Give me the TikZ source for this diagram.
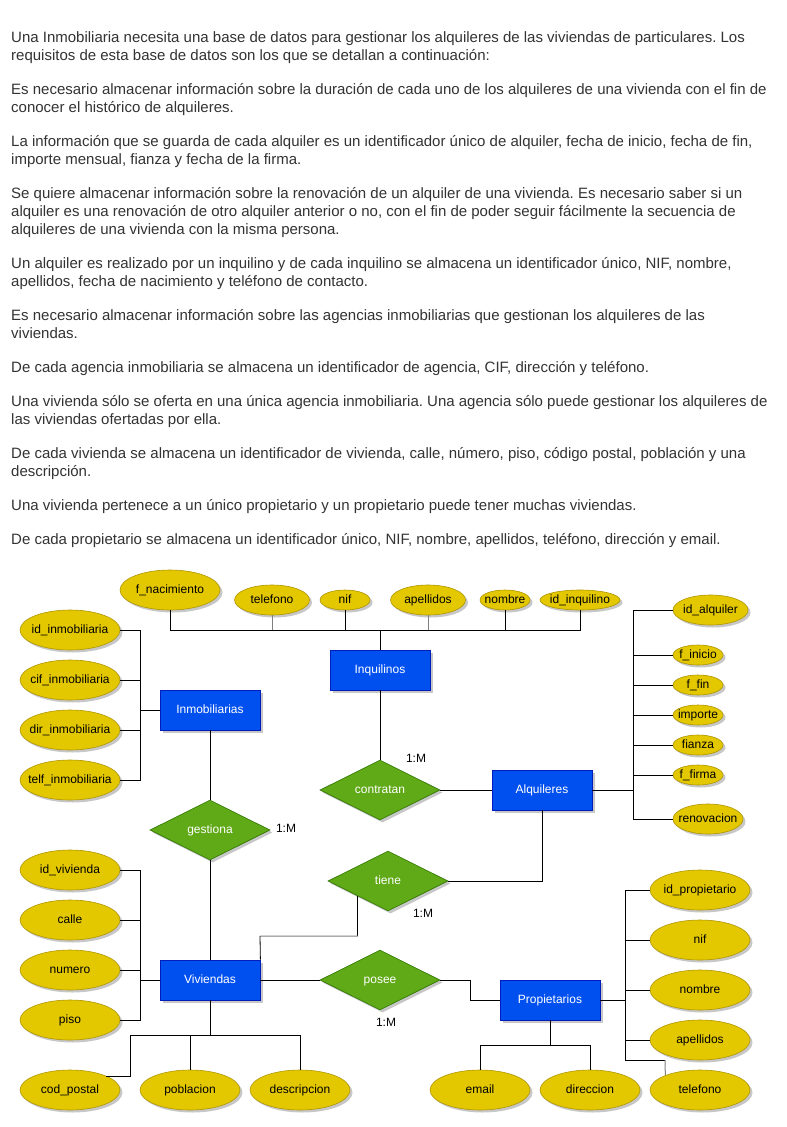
\documentclass[tikz,border=0pt]{standalone}
\usepackage{fontspec}
\setmainfont{Liberation Sans}
\usetikzlibrary{shapes.geometric,shadows,calc}
\definecolor{attrfill}{HTML}{E3C800}
\definecolor{attrline}{HTML}{B09500}
\definecolor{entfill}{HTML}{0050EF}
\definecolor{entline}{HTML}{001DBC}
\definecolor{relfill}{HTML}{60A917}
\definecolor{relline}{HTML}{2D7600}
\definecolor{txt}{HTML}{333333}
\frenchspacing
\begin{document}
\begin{tikzpicture}[x=1pt,y=-1pt,
  shd/.style={drop shadow={shadow xshift=2.5pt,shadow yshift=-2.5pt,opacity=0.22,fill=black}},
  lbl/.style={font=\fontsize{12}{14}\selectfont,text height=8.6pt,text depth=2.4pt},
  attr/.style={ellipse,fill=attrfill,draw=attrline,line width=0.6pt,inner xsep=-20pt,inner ysep=-8pt,shd,
    lbl,text=black},
  entity/.style={rectangle,fill=entfill,draw=entline,line width=0.8pt,inner sep=0pt,shd,
    minimum width=100pt,minimum height=40pt,lbl,text=white},
  rel/.style={diamond,aspect=2,fill=relfill,draw=relline,line width=0.6pt,inner sep=0pt,shd,
    minimum width=120pt,minimum height=60pt,lbl,text=white},
  card/.style={lbl,text=black,inner sep=0pt},
  para/.style={anchor=base west,inner sep=0pt,text=txt,font=\fontsize{15}{17}\selectfont},
  conn/.style={draw=black,line width=0.8pt},
  conng/.style={draw=gray,line width=1pt}]
\useasboundingbox (0,0) rectangle (787,1127);
\fill[white] (0,0) rectangle (787,1127);

% ---------- text ----------
\node[para] (p1) at (11,42) {Una Inmobiliaria necesita una base de datos para gestionar los alquileres de las viviendas de particulares. Los};
\node[para] (p2) at (11,60) {requisitos de esta base de datos son los que se detallan a continuación:};
\node[para] (p3) at (11,94) {Es necesario almacenar información sobre la duración de cada uno de los alquileres de una vivienda con el fin de};
\node[para] (p4) at (11,112) {conocer el histórico de alquileres.};
\node[para] (p5) at (11,146) {La información que se guarda de cada alquiler es un identificador único de alquiler, fecha de inicio, fecha de fin,};
\node[para] (p6) at (11,164) {importe mensual, fianza y fecha de la firma.};
\node[para] (p7) at (11,198) {Se quiere almacenar información sobre la renovación de un alquiler de una vivienda. Es necesario saber si un};
\node[para] (p8) at (11,216) {alquiler es una renovación de otro alquiler anterior o no, con el fin de poder seguir fácilmente la secuencia de};
\node[para] (p9) at (11,234) {alquileres de una vivienda con la misma persona.};
\node[para] (p10) at (11,268) {Un alquiler es realizado por un inquilino y de cada inquilino se almacena un identificador único, NIF, nombre,};
\node[para] (p11) at (11,286) {apellidos, fecha de nacimiento y teléfono de contacto.};
\node[para] (p12) at (11,320) {Es necesario almacenar información sobre las agencias inmobiliarias que gestionan los alquileres de las};
\node[para] (p13) at (11,338) {viviendas.};
\node[para] (p14) at (11,372) {De cada agencia inmobiliaria se almacena un identificador de agencia, CIF, dirección y teléfono.};
\node[para] (p15) at (11,406) {Una vivienda sólo se oferta en una única agencia inmobiliaria. Una agencia sólo puede gestionar los alquileres de};
\node[para] (p16) at (11,424) {las viviendas ofertadas por ella.};
\node[para] (p17) at (11,458) {De cada vivienda se almacena un identificador de vivienda, calle, número, piso, código postal, población y una};
\node[para] (p18) at (11,476) {descripción.};
\node[para] (p19) at (11,510) {Una vivienda pertenece a un único propietario y un propietario puede tener muchas viviendas.};
\node[para] (p20) at (11,544) {De cada propietario se almacena un identificador único, NIF, nombre, apellidos, teléfono, dirección y email.};

% ---------- entities ----------
\node[entity] (inq) at (380,670) {Inquilinos};
\node[entity] (inm) at (210,710) {Inmobiliarias};
\node[entity] (alq) at (542,790) {Alquileres};
\node[entity] (viv) at (210,980) {Viviendas};
\node[entity] (pro) at (550,1000) {Propietarios};

% ---------- relationships ----------
\node[rel] (contratan) at (380,790) {contratan};
\node[rel] (gestiona) at (210,830) {gestiona};
\node[rel] (tiene) at (388,881) {tiene};
\node[rel] (posee) at (380,980) {posee};

% ---------- attributes: Inquilinos ----------
\node[attr,minimum width=100pt,minimum height=40pt] (fnac) at (170,590) {f\_nacimiento};
\node[attr,minimum width=75pt,minimum height=30pt] (itel) at (272,600) {telefono};
\node[attr,minimum width=50pt,minimum height=20pt] (inif) at (345,600) {nif};
\node[attr,minimum width=75pt,minimum height=30pt] (iape) at (428,600) {apellidos};
\node[attr,minimum width=50pt,minimum height=20pt] (inom) at (505,600) {nombre};
\node[attr,minimum width=80pt,minimum height=20pt] (iid) at (580,600) {id\_inquilino};

% ---------- attributes: Inmobiliarias ----------
\node[attr,minimum width=100pt,minimum height=40pt] (idinm) at (70,630) {id\_inmobiliaria};
\node[attr,minimum width=100pt,minimum height=40pt] (cifinm) at (70,680) {cif\_inmobiliaria};
\node[attr,minimum width=100pt,minimum height=40pt] (dirinm) at (70,730) {dir\_inmobiliaria};
\node[attr,minimum width=100pt,minimum height=40pt] (telinm) at (70,780) {telf\_inmobiliaria};

% ---------- attributes: Alquileres ----------
\node[attr,minimum width=75pt,minimum height=30pt] (idalq) at (710.5,610) {id\_alquiler};
\node[attr,minimum width=50pt,minimum height=20pt] (fini) at (698,655) {f\_inicio};
\node[attr,minimum width=50pt,minimum height=20pt] (ffin) at (698,685) {f\_fin};
\node[attr,minimum width=50pt,minimum height=20pt] (imp) at (698,715) {importe};
\node[attr,minimum width=50pt,minimum height=20pt] (fia) at (698,745) {fianza};
\node[attr,minimum width=50pt,minimum height=20pt] (ffir) at (698,775) {f\_firma};
\node[attr,minimum width=70pt,minimum height=30pt] (ren) at (708,819) {renovacion};

% ---------- attributes: Viviendas ----------
\node[attr,minimum width=100pt,minimum height=40pt] (idviv) at (70,870) {id\_vivienda};
\node[attr,minimum width=100pt,minimum height=40pt] (calle) at (70,920) {calle};
\node[attr,minimum width=100pt,minimum height=40pt] (num) at (70,970) {numero};
\node[attr,minimum width=100pt,minimum height=40pt] (piso) at (70,1020) {piso};
\node[attr,minimum width=100pt,minimum height=40pt] (cod) at (70,1090) {cod\_postal};
\node[attr,minimum width=100pt,minimum height=40pt] (pob) at (190,1090) {poblacion};
\node[attr,minimum width=100pt,minimum height=40pt] (des) at (300,1090) {descripcion};

% ---------- attributes: Propietarios ----------
\node[attr,minimum width=100pt,minimum height=40pt] (idpro) at (700,890) {id\_propietario};
\node[attr,minimum width=100pt,minimum height=40pt] (pnif) at (700,940) {nif};
\node[attr,minimum width=100pt,minimum height=40pt] (pnom) at (700,990) {nombre};
\node[attr,minimum width=100pt,minimum height=40pt] (pape) at (700,1040) {apellidos};
\node[attr,minimum width=100pt,minimum height=40pt] (ptel) at (700,1090) {telefono};
\node[attr,minimum width=100pt,minimum height=40pt] (email) at (480,1090) {email};
\node[attr,minimum width=100pt,minimum height=40pt] (dirp) at (590,1090) {direccion};

% ---------- cardinalities ----------
\node[card] (c1) at (416,759) {1:M};
\node[card] (c2) at (286,829) {1:M};
\node[card] (c3) at (423,914) {1:M};
\node[card] (c4) at (386,1023) {1:M};

% ---------- bus coordinates ----------
\coordinate (busI) at (380,630);
\coordinate (busInm) at (140,710);
\coordinate (busA) at (633,790);
\coordinate (busV) at (140,980);
\coordinate (busVb) at (210,1035);
\coordinate (busP) at (625,1000);
\coordinate (busPb) at (550,1045);

% ---------- connectors: Inquilinos ----------
\draw[conn] (inq.north) -- (busI);
\draw[conn] (fnac.south) |- (busI);
\draw[conn] (iid.south) |- (busI);
\draw[conng] (itel.south) -- (itel.south |- busI);
\draw[conn] (inif.south) -- (inif.south |- busI);
\draw[conng] (iape.south) -- (iape.south |- busI);
\draw[conn] (inom.south) -- (inom.south |- busI);

% ---------- connectors: Inmobiliarias ----------
\draw[conn] (inm.west) -- (busInm);
\draw[conn] (idinm.east) -| (busInm);
\draw[conn] (telinm.east) -| (busInm);
\draw[conn] (cifinm.east) -- (cifinm.east -| busInm);
\draw[conn] (dirinm.east) -- (dirinm.east -| busInm);

% ---------- connectors: Alquileres ----------
\draw[conn] (alq.east) -- (busA);
\draw[conn] (idalq.west) -| (busA);
\draw[conn] (ren.west) -| (busA);
\draw[conn] (fini.west) -- (fini.west -| busA);
\draw[conn] (ffin.west) -- (ffin.west -| busA);
\draw[conn] (imp.west) -- (imp.west -| busA);
\draw[conn] (fia.west) -- (fia.west -| busA);
\draw[conn] (ffir.west) -- (ffir.west -| busA);

% ---------- connectors: Viviendas ----------
\draw[conn] (viv.west) -- (busV);
\draw[conn] (idviv.east) -| (busV);
\draw[conn] (piso.east) -| (busV);
\draw[conn] (calle.east) -- (calle.east -| busV);
\draw[conn] (num.east) -- (num.east -| busV);
\draw[conn] (viv.south) -- (busVb);
\draw[conn] (cod.21.4) -| (130,1035) -- (busVb);
\draw[conn] (des.north) |- (busVb);
\draw[conn] (pob.north) -- (pob.north |- busVb);

% ---------- connectors: Propietarios ----------
\draw[conn] (pro.east) -- (busP);
\draw[conn] (idpro.west) -| (busP);
\draw[conn] (pnif.west) -- (pnif.west -| busP);
\draw[conn] (pnom.west) -- (pnom.west -| busP);
\draw[conn] (pape.west) -- (pape.west -| busP);
\draw[conn] (busP) -- (625,1060) -- (665,1060);
\draw[conng] (665,1060) -- (ptel.157.8);
\draw[conn] (pro.south) -- (busPb);
\draw[conn] (email.north) |- (busPb);
\draw[conn] (dirp.north) |- (busPb);

% ---------- connectors: relationships ----------
\draw[conn] (inq.south) -- (contratan.north);
\draw[conn] (contratan.east) -- (alq.west);
\draw[conn] (inm.south) -- (gestiona.north);
\draw[conn] (gestiona.south) -- (viv.north);
\draw[conn] (alq.south) |- (tiene.east);
\draw[conn] ($(tiene.west)!0.5!(tiene.south)$) -- ++(0,40) coordinate (tk);
\draw[conng] (tk) -- (260,936);
\draw[conn] (260,936) -- (viv.north east);
\draw[conn] (viv.east) -- (posee.west);
\draw[conn] (posee.east) -- (470,980) |- (pro.west);
\end{tikzpicture}
\end{document}
